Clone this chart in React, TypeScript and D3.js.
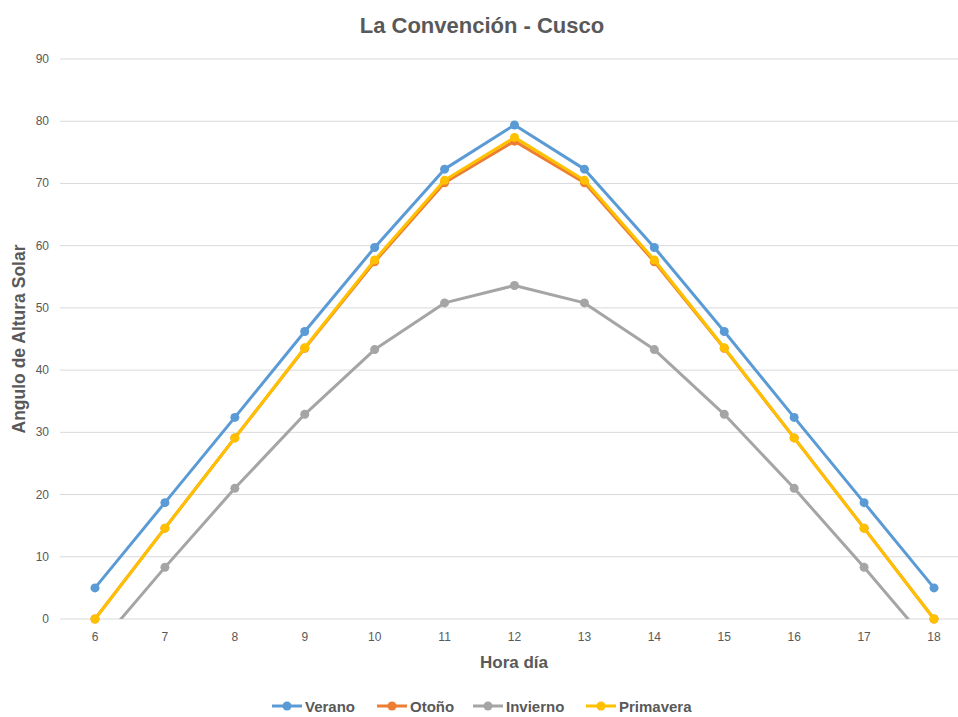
import React from "react";
import * as d3 from "d3";

const hours = [6, 7, 8, 9, 10, 11, 12, 13, 14, 15, 16, 17, 18];
const verano = [5.0, 18.7, 32.4, 46.2, 59.7, 72.3, 79.4, 72.3, 59.7, 46.2, 32.4, 18.7, 5.0];
const otono = [0, 14.6, 29.1, 43.5, 57.4, 70.1, 76.8, 70.1, 57.4, 43.5, 29.1, 14.6, 0];
const invierno = [-4.9, 8.3, 21.0, 32.9, 43.3, 50.8, 53.6, 50.8, 43.3, 32.9, 21.0, 8.3, -4.9];
const primavera = [0, 14.6, 29.1, 43.6, 57.7, 70.5, 77.4, 70.5, 57.7, 43.6, 29.1, 14.6, 0];
const yTicks = [0, 10, 20, 30, 40, 50, 60, 70, 80, 90];
const seriesNames = ["Verano", "Otoño", "Invierno", "Primavera"];
const seriesColors = ["#5B9BD5", "#ED7D31", "#A5A5A5", "#FFC000"];
const seriesData = [verano, otono, invierno, primavera];

const W = 958;
const H = 717;
const FONT = "'Liberation Sans', Arial, sans-serif";
const TXT = "#595959";

export default function App() {
  const x = d3.scaleLinear().domain([6, 18]).range([95, 934]);
  const y = d3.scaleLinear().domain([0, 90]).range([619, 59]);
  const line = d3
    .line<number>()
    .x((_, i) => x(hours[i]))
    .y((d) => y(d));

  const legendX = [272, 377, 473, 586];

  return (
    <svg
      width={W}
      height={H}
      style={{ position: "absolute", left: 0, top: 0, background: "#fff" }}
      fontFamily={FONT}
    >
      <defs>
        <clipPath id="plot">
          <rect x={0} y={40} width={W} height={619 - 40} />
        </clipPath>
      </defs>
      <rect width={W} height={H} fill="#fff" />
      <text x={482} y={33} textAnchor="middle" fontSize={22} fontWeight="bold" fill={TXT}>
        La Convención - Cusco
      </text>
      {yTicks.map((t) => (
        <g key={t}>
          <line x1={60} x2={W} y1={y(t)} y2={y(t)} stroke="#D9D9D9" strokeWidth={1} />
          <text x={49} y={y(t) + 4} textAnchor="end" fontSize={12} fill={TXT}>
            {t}
          </text>
        </g>
      ))}
      {hours.map((h) => (
        <text key={h} x={x(h)} y={641} textAnchor="middle" fontSize={12} fill={TXT}>
          {h}
        </text>
      ))}
      <text x={514} y={668} textAnchor="middle" fontSize={17} fontWeight="bold" fill={TXT}>
        Hora día
      </text>
      <text
        transform={`translate(25,339) rotate(-90)`}
        textAnchor="middle"
        fontSize={17.5}
        fontWeight="bold"
        fill={TXT}
      >
        Angulo de Altura Solar
      </text>
      {seriesData.map((data, si) => (
        <g key={si}>
          <path
            d={line(data) || ""}
            fill="none"
            stroke={seriesColors[si]}
            strokeWidth={3}
            strokeLinejoin="round"
            clipPath="url(#plot)"
          />
          {data.map((v, i) =>
            v >= 0 ? (
              <circle key={i} cx={x(hours[i])} cy={y(v)} r={4.5} fill={seriesColors[si]} />
            ) : null
          )}
        </g>
      ))}
      {seriesNames.map((n, i) => (
        <g key={n}>
          <line
            x1={legendX[i]}
            x2={legendX[i] + 30}
            y1={706}
            y2={706}
            stroke={seriesColors[i]}
            strokeWidth={3}
          />
          <circle cx={legendX[i] + 15} cy={706} r={4.5} fill={seriesColors[i]} />
          <text x={legendX[i] + 33} y={711.5} fontSize={15} fontWeight="bold" fill={TXT}>
            {n}
          </text>
        </g>
      ))}
    </svg>
  );
}
